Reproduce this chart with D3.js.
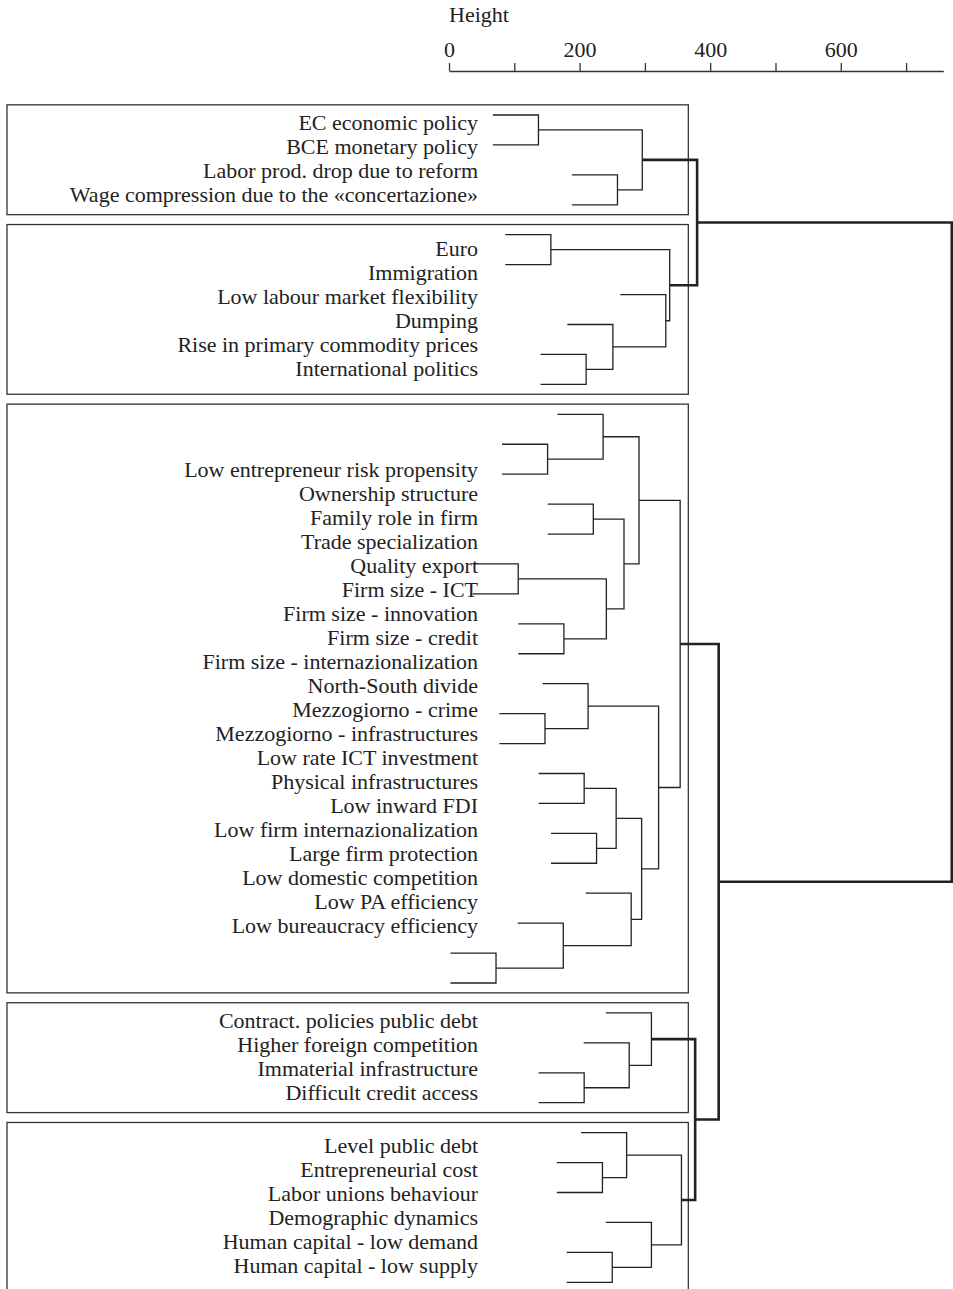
<!DOCTYPE html>
<html>
<head>
<meta charset="utf-8">
<script src="https://cdn.jsdelivr.net/npm/d3@7"></script>
<style>
  body { margin: 0; background: #fff; }
  svg { display: block; }
</style>
</head>
<body>
<svg id="chart" width="953" height="1289"></svg>
<script>
// Leaf labels, in top-to-bottom display order
const labels = [
  "EC economic policy",
  "BCE monetary policy",
  "Labor prod. drop due to reform",
  "Wage compression due to the «concertazione»",
  "Euro",
  "Immigration",
  "Low labour market flexibility",
  "Dumping",
  "Rise in primary commodity prices",
  "International politics",
  "Low entrepreneur risk propensity",
  "Ownership structure",
  "Family role in firm",
  "Trade specialization",
  "Quality export",
  "Firm size - ICT",
  "Firm size - innovation",
  "Firm size - credit",
  "Firm size - internazionalization",
  "North-South divide",
  "Mezzogiorno - crime",
  "Mezzogiorno - infrastructures",
  "Low rate ICT investment",
  "Physical infrastructures",
  "Low inward FDI",
  "Low firm internazionalization",
  "Large firm protection",
  "Low domestic competition",
  "Low PA efficiency",
  "Low bureaucracy efficiency",
  "Contract. policies public debt",
  "Higher foreign competition",
  "Immaterial infrastructure",
  "Difficult credit access",
  "Level public debt",
  "Entrepreneurial cost",
  "Labor unions behaviour",
  "Demographic dynamics",
  "Human capital - low demand",
  "Human capital - low supply"
];

// hclust-style merge table: negative = leaf (1-based label index), positive = earlier merge (1-based)
const merges = [
  [-1, -2], [-3, -4], [1, 2],
  [-5, -6], [-9, -10], [-8, 5], [-7, 6], [4, 7], [3, 8],
  [-12, -13], [-11, 10], [-14, -15], [-16, -17], [-18, -19], [13, 14], [12, 15], [11, 16],
  [-21, -22], [-20, 18], [-23, -24], [-25, -26], [20, 21], [-29, -30], [-28, 23], [-27, 24],
  [22, 25], [19, 26], [17, 27],
  [-33, -34], [-32, 29], [-31, 30],
  [-36, -37], [-35, 32], [-39, -40], [-38, 34], [33, 35],
  [31, 36], [28, 37], [9, 38]
];

// Merge heights, one per row of the merge table
const heights = [
  137, 258, 296,
  156, 210, 251, 332, 338, 380,
  151, 236, 221, 106, 176, 241, 268, 291,
  147, 213, 207, 226, 256, 72, 175, 279,
  295, 321, 354,
  207, 276, 310,
  235, 272, 250, 310, 356,
  377, 413, 770
];

const clusterCount = 5;
const axisTicks = [0, 100, 200, 300, 400, 500, 600, 700];
const axisLabels = [0, 200, 400, 600];
const axisMax = 757;

// ---- layout ----
const font = '"Liberation Serif", "Times New Roman", serif';
const fontSize = 22;
const ink = "#222";
const labelRight = 478;
const panelLeft = 7;
const lineStep = 24;
const hangFrac = 0.1;

const svg = d3.select("#chart");

const x = d3.scaleLinear().domain([0, axisMax]).range([449, 943.3]);
const y = d3.scaleLinear().domain([0.5, labels.length - 0.5]).range([115, 1282.3]);

// build the tree from the merge table
const nodes = [];
const ref = r => r < 0 ? { name: labels[-r - 1] } : nodes[r - 1];
merges.forEach(([a, b], i) => nodes.push({ h: heights[i], children: [ref(a), ref(b)] }));
const root = d3.hierarchy(nodes[nodes.length - 1]);
d3.cluster().size([labels.length, 1]).separation(() => 1)(root);

const hang = hangFrac * (d3.max(heights) - d3.min(heights));
const hv = n => n.children ? n.data.h : n.parent.data.h - hang;

const sorted = heights.slice().sort((a, b) => b - a);
const cut = (sorted[clusterCount - 2] + sorted[clusterCount - 1]) / 2;

// cluster rectangles
const clusters = root.descendants()
  .filter(n => n.parent && hv(n) <= cut && hv(n.parent) > cut)
  .sort((a, b) => a.leaves()[0].x - b.leaves()[0].x);

const boxG = svg.append("g");
const labelG = svg.append("g")
  .attr("font-family", font)
  .attr("font-size", fontSize)
  .attr("fill", ink)
  .attr("text-anchor", "end");

clusters.forEach(c => {
  const lv = c.leaves();
  const top = y(lv[0].x - 0.34);
  const bottom = y(lv[lv.length - 1].x + 0.33);
  boxG.append("rect")
    .attr("x", panelLeft)
    .attr("y", top)
    .attr("width", x(cut) - panelLeft)
    .attr("height", bottom - top)
    .attr("fill", "none")
    .attr("stroke", "#333")
    .attr("stroke-width", 1.3);
  const mid = (top + bottom) / 2;
  labelG.selectAll(null)
    .data(lv)
    .join("text")
    .attr("x", labelRight)
    .attr("y", (d, k) => mid + (k - (lv.length - 1) / 2) * lineStep)
    .attr("dy", "0.28em")
    .text(d => d.data.name);
});

// dendrogram branches
const treeG = svg.append("g").attr("fill", "none").attr("stroke", ink);
root.descendants().filter(n => n.children).forEach(n => {
  const [c0, c1] = n.children;
  const xn = x(hv(n));
  const p = d3.path();
  p.moveTo(x(hv(c0)), y(c0.x));
  p.lineTo(xn, y(c0.x));
  p.lineTo(xn, y(c1.x));
  p.lineTo(x(hv(c1)), y(c1.x));
  treeG.append("path")
    .attr("d", p.toString())
    .attr("stroke-width", hv(n) > cut ? 2.6 : 1.3)
    .attr("stroke-linejoin", "miter");
});

// height axis
const axis = d3.axisTop(x)
  .tickValues(axisTicks)
  .tickSize(8)
  .tickSizeOuter(0)
  .tickPadding(6)
  .tickFormat(d => axisLabels.includes(d) ? d : "");

const axisG = svg.append("g")
  .attr("transform", "translate(0,71)")
  .call(axis);
axisG.select(".domain").attr("stroke", "#333").attr("stroke-width", 1.3);
axisG.selectAll(".tick line").attr("stroke", "#333").attr("stroke-width", 1.3);
axisG.selectAll(".tick text")
  .attr("font-family", font)
  .attr("font-size", fontSize)
  .attr("fill", ink);

svg.append("text")
  .attr("x", 449)
  .attr("y", 22)
  .attr("font-family", font)
  .attr("font-size", fontSize)
  .attr("fill", ink)
  .text("Height");
</script>
</body>
</html>
